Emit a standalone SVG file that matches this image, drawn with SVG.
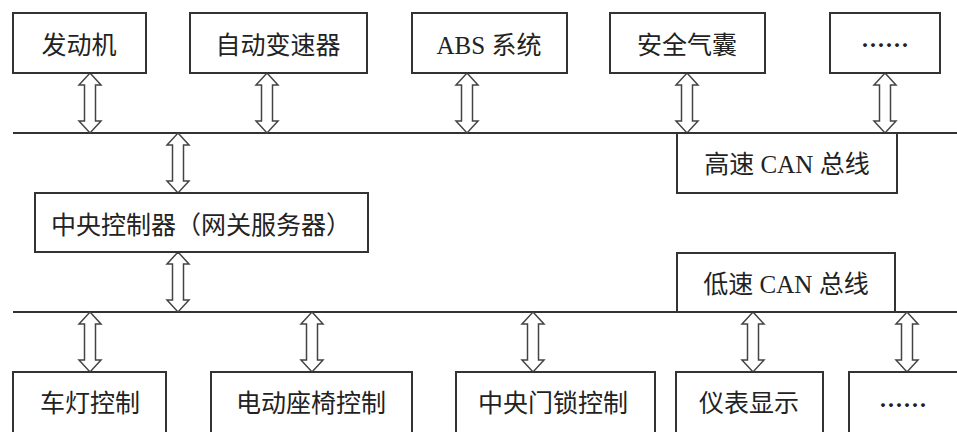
<svg xmlns="http://www.w3.org/2000/svg" width="957" height="432" viewBox="0 0 957 432">
<style>
.box{fill:#fff;stroke:#333;stroke-width:2}
.bus{stroke:#333;stroke-width:2;fill:none}
.arr{fill:#fff;stroke:#444;stroke-width:1.5;stroke-linejoin:miter}
text{font-family:'Liberation Serif','Noto Sans CJK SC',sans-serif;font-size:25px;fill:#222;text-anchor:middle;dominant-baseline:central}
text.dots{font-family:'Noto Sans CJK SC',sans-serif;font-weight:bold;font-size:24px}
</style>
<defs>
<path id="dArr" class="arr" d="M0,0 L11,12 L5.5,12 L5.5,48 L11,48 L0,60 L-11,48 L-5.5,48 L-5.5,12 L-11,12 Z"/>
</defs>
<rect width="957" height="432" fill="#fff"/>
<g id="connectors">
<line class="bus" x1="13" y1="133" x2="957" y2="133"/>
<line class="bus" x1="13" y1="312" x2="957" y2="312"/>
<use href="#dArr" x="90" y="73"/>
<use href="#dArr" x="267" y="73"/>
<use href="#dArr" x="467" y="73"/>
<use href="#dArr" x="687" y="73"/>
<use href="#dArr" x="885" y="73"/>
<use href="#dArr" x="178" y="133"/>
<use href="#dArr" x="178" y="252"/>
<use href="#dArr" x="90" y="312"/>
<use href="#dArr" x="312" y="312"/>
<use href="#dArr" x="533" y="312"/>
<use href="#dArr" x="753" y="312"/>
<use href="#dArr" x="907" y="312"/>
</g>
<g id="engine"><rect class="box" x="13" y="13" width="133" height="60"/><text x="79" y="45">发动机</text></g>
<g id="gearbox"><rect class="box" x="190" y="13" width="177" height="60"/><text x="278" y="45">自动变速器</text></g>
<g id="abs"><rect class="box" x="412" y="13" width="155" height="60"/><text x="489" y="45">ABS 系统</text></g>
<g id="airbag"><rect class="box" x="610" y="13" width="155" height="60"/><text x="687" y="45">安全气囊</text></g>
<g id="more-top"><rect class="box" x="830" y="13" width="110" height="60"/><text class="dots" x="885" y="43">……</text></g>
<g id="hs-can"><rect class="box" x="677" y="133" width="220" height="60"/><text x="787" y="164">高速 CAN 总线</text></g>
<g id="gateway"><rect class="box" x="35" y="193" width="333" height="59"/><text x="201" y="225">中央控制器（网关服务器）</text></g>
<g id="ls-can"><rect class="box" x="677" y="253" width="218" height="59"/><text x="786" y="284">低速 CAN 总线</text></g>
<g id="lights"><rect class="box" x="13" y="372" width="153" height="70"/><text x="90" y="403">车灯控制</text></g>
<g id="seat"><rect class="box" x="211" y="372" width="201" height="70"/><text x="311" y="403">电动座椅控制</text></g>
<g id="doorlock"><rect class="box" x="456" y="372" width="199" height="70"/><text x="553" y="403">中央门锁控制</text></g>
<g id="dashboard"><rect class="box" x="676" y="372" width="147" height="70"/><text x="749" y="403">仪表显示</text></g>
<g id="more-bottom"><rect class="box" x="849" y="372" width="120" height="70"/><text class="dots" x="903" y="403">……</text></g>
</svg>
